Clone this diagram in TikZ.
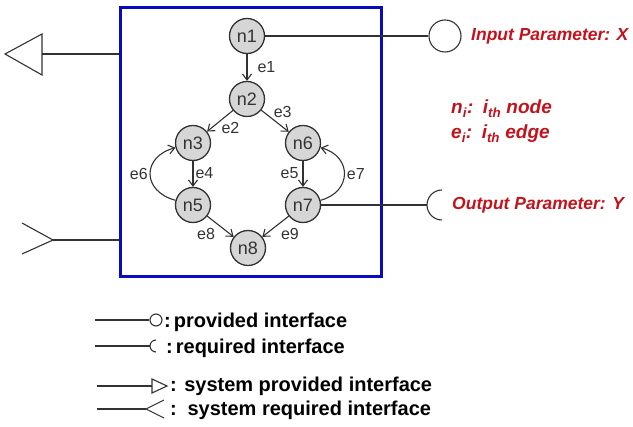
\documentclass[tikz,border=0pt]{standalone}
\usepackage{fontspec}
\setmainfont{Liberation Sans}
\usepackage{xcolor}
\usepackage{tikz}
\usetikzlibrary{arrows.meta, positioning, calc}
\definecolor{compblue}{RGB}{10,10,190}
\definecolor{parred}{RGB}{196,18,28}
\definecolor{vgray}{RGB}{214,214,214}
\definecolor{wiregray}{RGB}{50,50,50}
\tikzset{
  vertex/.style={circle, draw=wiregray, fill=vgray, line width=1.3pt, minimum size=35pt, inner sep=0pt, font=\fontsize{18}{18}\selectfont, text=black!80},
  flow/.style={-{Straight Barb[length=6pt, width=9pt]}, draw=wiregray, line width=1.1pt},
  elabel/.style={font=\fontsize{16}{16}\selectfont, text=black!80, inner sep=1pt},
  wire/.style={draw=wiregray, line width=1.1pt},
  socket/.style={circle, draw=wiregray, line width=1.1pt, inner sep=0pt},
  partext/.style={font=\fontsize{17.5}{21}\selectfont\bfseries\itshape, text=parred, inner sep=0pt},
  legtext/.style={font=\fontsize{20}{22}\selectfont\bfseries, anchor=base west, inner sep=0pt},
}

\begin{document}
\begin{tikzpicture}[x=1pt, y=-1pt]
  \useasboundingbox (0,0) rectangle (633,427);

  % component
  \node[draw=compblue, line width=3pt, minimum width=261pt, minimum height=269pt, inner sep=0pt] (comp) at (250.5,142.5) {};

  % nodes of the graph
  \foreach \n/\x/\y in {1/247/36, 2/247/99, 3/193/143, 6/303/143, 5/193/205, 7/303/205, 8/248/248}
    \node[vertex] (n\n) at (\x,\y) {n\n};

  % edges
  \draw[flow] (n1) -- node[elabel, right=9pt] {e1} (n2);
  \draw[flow] (n2) -- node[elabel, anchor=north west] {e2} (n3);
  \draw[flow] (n2) -- node[elabel, pos=0.4, anchor=south west] {e3} (n6);
  \draw[flow] (n3) -- node[elabel, pos=0.45, right=1pt] {e4} (n5);
  \draw[flow] (n6) -- node[elabel, pos=0.45, left=3pt] {e5} (n7);
  \draw[flow] (n5) to[out=165, in=195, looseness=1.7] node[elabel, left=1pt] {e6} (n3);
  \draw[flow] (n7) to[out=15, in=-15, looseness=1.6] node[elabel, right=1pt] {e7} (n6);
  \draw[flow] (n5) -- node[elabel, anchor=north east, xshift=-4pt] {e8} (n8);
  \draw[flow] (n7) -- node[elabel, anchor=north west, xshift=4pt] {e9} (n8);

  % input and output parameters
  \node[socket, minimum size=32pt] (inP) at (445,36) {};
  \draw[wire] (n1) -- (inP);
  \node[partext, anchor=west] (inLab) at (471,36) {Input Parameter: X};

  \coordinate (outP) at (427,205);
  \draw[wire] (n7) -- (outP);
  \draw[wire] (outP) ++(15,-15) arc[start angle=270, end angle=90, radius=15];
  \node[partext, anchor=west] (outLab) at (452,205) {Output Parameter: Y};

  \node[partext, anchor=west, align=left, font=\fontsize{19}{25}\selectfont\bfseries\itshape] (notes) at (451,121)
    {n\textsubscript{i}:\enspace i\textsubscript{th} node\\e\textsubscript{i}:\enspace i\textsubscript{th} edge};

  % system interfaces
  \coordinate (sysP) at (42,54);
  \draw[wire] (comp.west |- sysP) -- (sysP);
  \draw[wire] (sysP) ++(0,-20) -- ++(-37,20) -- ++(37,21) -- cycle;

  \coordinate (sysR) at (53,240);
  \draw[wire] (comp.west |- sysR) -- (sysR);
  \draw[wire] (sysR) ++(-31,-17) -- (sysR) -- ++(-31,14);

  % legend
  \coordinate (lg1) at (95,320);
  \node[socket, minimum size=12pt] (lgP) at (156,320) {};
  \draw[wire] (lg1) -- (lgP);
  \node[legtext] (lt1) at (164,328) {:\kern3pt provided interface};

  \coordinate (lg2) at (95,346);
  \coordinate (lgR) at (150,346);
  \draw[wire] (lg2) -- (lgR);
  \draw[wire] (lgR) ++(6,-6) arc[start angle=270, end angle=90, radius=6];
  \node[legtext] (lt2) at (166,354) {:\kern3pt required interface};

  \coordinate (lg3) at (97,386);
  \coordinate (lgT) at (152,386);
  \draw[wire] (lg3) -- (lgT);
  \draw[wire] (lgT) ++(0,-7) -- ++(15,7) -- ++(-15,7) -- cycle;
  \node[legtext] (lt3) at (170,392) {: system provided interface};

  \coordinate (lg4) at (97,409);
  \coordinate (lgA) at (146,409);
  \draw[wire] (lg4) -- (lgA);
  \draw[wire] (lgA) ++(18,-9) -- (lgA) -- ++(18,9);
  \node[legtext] (lt4) at (170,416) {:\, system required interface};
\end{tikzpicture}
\end{document}
